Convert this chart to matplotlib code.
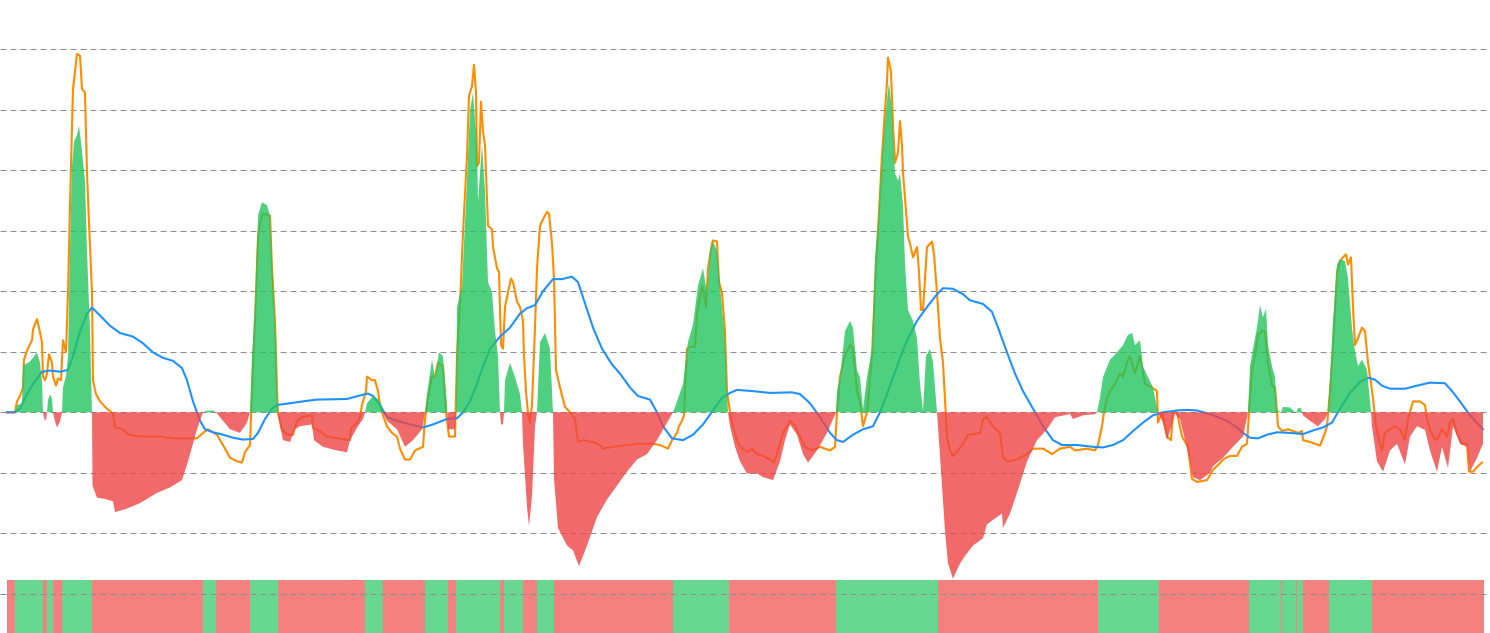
import matplotlib
matplotlib.use("Agg")
import matplotlib.pyplot as plt
import numpy as np

# histogram (green/red area): day index, value
hist_x = [7, 15, 17, 22, 23, 25, 30, 33, 37, 40, 42, 43, 44, 46, 47, 48, 50, 52, 53, 55, 57, 60, 62,
          63, 66, 68, 70, 72, 74, 77, 79, 81, 85, 87, 90, 92, 92.5, 97, 105, 113, 115, 127, 140, 157,
          170, 182, 188, 197, 203, 207, 213, 216, 223, 230, 240, 247, 250, 252, 255, 258, 262, 267,
          270, 273, 276, 278, 280, 283, 290, 295, 300, 312, 314, 323, 337, 347, 350, 358, 363, 365,
          367, 373, 378, 382, 383, 387, 397, 405, 413, 422, 425, 427, 432, 435, 439, 443, 447, 448,
          455, 456, 457, 462, 467, 470, 473, 477, 478, 482, 485, 488, 492, 495, 498, 500, 501, 503,
          504, 505, 510, 515, 520, 522, 523, 527, 529, 532, 535, 537, 540, 545, 550, 553, 554, 558,
          567, 573, 579, 587, 597, 607, 617, 627, 637, 647, 657, 665, 673, 677, 683, 688, 693, 698,
          703, 707, 710, 713, 717, 720, 725, 728, 730, 735, 740, 747, 757, 763, 773, 780, 785, 790,
          797, 803, 808, 817, 827, 836, 837, 840, 845, 850, 853, 857, 860, 863, 867, 872, 875, 878,
          882, 887, 889, 892, 895, 898, 900, 903, 905, 908, 913, 917, 920, 923, 926, 930, 933, 937,
          938, 942, 945, 948, 953, 957, 960, 965, 973, 983, 987, 997, 1002, 1003, 1010, 1017, 1027,
          1037, 1047, 1055, 1070, 1073, 1083, 1095, 1097, 1100, 1103, 1110, 1117, 1123, 1128, 1132,
          1135, 1140, 1143, 1148, 1153, 1158, 1163, 1167, 1172, 1175, 1180, 1190, 1193, 1200, 1210,
          1213, 1223, 1233, 1243, 1248, 1250, 1253, 1257, 1260, 1263, 1266, 1268, 1272, 1275, 1277,
          1281, 1283, 1290, 1296, 1298, 1301, 1302, 1303, 1310, 1318, 1325, 1328, 1330, 1333, 1337,
          1340, 1345, 1348, 1352, 1354, 1358, 1362, 1367, 1371, 1372, 1377, 1383, 1390, 1397, 1405,
          1410, 1417, 1425, 1430, 1437, 1442, 1448, 1453, 1460, 1467, 1470, 1477, 1483]
hist_v = [-0.01, -0.01, 0.12, 0.14, 0.76, 0.79, 0.84, 0.9, 0.99, 0.82, 0.5, 0, -0.1, -0.14, 0, 0.2, 0.3,
          0.22, 0, -0.15, -0.25, -0.15, 0, 0.41, 0.6, 0.93, 2.67, 4.06, 4.47, 4.58, 4.73, 4.47, 3.83,
          2.67, 1.34, 0, -1.21, -1.41, -1.43, -1.47, -1.65, -1.59, -1.5, -1.33, -1.24, -1.12, -0.81,
          -0.28, 0, 0.03, 0.03, 0, -0.14, -0.28, -0.34, -0.17, 0, 0.93, 1.8, 3.25, 3.47, 3.42, 3.25,
          2.21, 1.22, 0, -0.23, -0.46, -0.49, -0.28, -0.23, -0.2, -0.46, -0.57, -0.63, -0.66, -0.46,
          -0.23, -0.11, 0, 0.15, 0.27, 0.22, 0.1, 0, -0.14, -0.28, -0.57, -0.46, -0.28, 0, 0.3, 0.87,
          0.58, 0.99, 0.93, 0.12, -0.28, -0.28, 0, 1.74, 2.09, 3.83, 4.99, 5.28, 4.41, 3.48, 4.41,
          3.66, 2.15, 1.98, 1.34, 0.93, 0, -0.2, -0.2, 0, 0.53, 0.82, 0.58, 0.3, 0, -0.52, -1.56,
          -1.88, -1.38, -0.23, 0, 1.16, 1.31, 1.05, 0, -1.1, -1.91, -2.2, -2.28, -2.54, -2.2, -1.73,
          -1.44, -1.21, -0.98, -0.78, -0.69, -0.46, -0.23, 0, 0.18, 0.47, 1.16, 1.45, 2.09, 2.38,
          1.98, 2.67, 2.82, 2.67, 2.09, 1.22, 0, -0.23, -0.57, -0.81, -1.01, -1.01, -1.07, -1.12,
          -0.81, -0.46, -0.2, -0.37, -0.69, -0.83, -0.63, -0.34, 0, 0.35, 0.58, 1.34, 1.51, 1.39, 0.7,
          0.58, 0.05, 0.58, 1.05, 2.56, 3.11, 4.24, 5.16, 5.45, 4.99, 3.95, 3.83, 3.95, 3.42, 2.44,
          1.69, 1.51, 1.22, 0.47, 0.02, 0.93, 1.05, 0.82, 0, -0.23, -1.21, -1.96, -2.49, -2.75, -2.6,
          -2.5, -2.37, -2.2, -2.08, -1.85, -1.73, -1.67, -1.91, -1.67, -1.33, -0.81, -0.46, -0.28,
          -0.08, -0.03, -0.11, -0.05, -0.03, 0, 0.24, 0.58, 0.87, 0.99, 1.11, 1.28, 1.31, 1.11, 1.19,
          0.76, 0.58, 0.41, 0, -0.17, -0.46, -0.2, -0.02, -0.11, -0.81, -1.07, -1.12, -1.0, -0.89,
          -0.75, -0.57, -0.4, 0, 0.76, 1.05, 1.4, 1.77, 1.57, 1.71, 1.11, 0.76, 0.58, 0.05, -0.01,
          0.09, 0.08, -0.01, 0.07, 0.07, 0, -0.05, -0.14, -0.23, -0.11, 0, 0.58, 1.51, 2.44, 2.53,
          2.5, 2.21, 1.4, 1.11, 0.76, 0.87, 0.7, 0, -0.23, -0.81, -0.98, -0.63, -0.52, -0.86, -0.4,
          -0.23, -0.29, -0.63, -0.98, -0.57, -0.92, -0.23, -0.52, -0.57, -0.98, -0.75, -0.52]

# fast line (orange)
fast_x = [7, 15, 17, 20, 23, 24, 27, 32, 33, 37, 39, 42, 43, 45, 47, 49, 52, 53, 56, 58, 61, 63, 66, 68,
          70, 73, 75, 77, 80, 82, 85, 87, 89, 92, 93, 96, 100, 107, 113, 115, 123, 128, 140, 160, 173,
          197, 203, 208, 217, 225, 230, 237, 242, 245, 250, 252, 255, 258, 261, 263, 270, 272, 275,
          277, 278, 282, 287, 293, 297, 302, 312, 313, 320, 327, 337, 350, 351, 357, 360, 362, 366,
          367, 372, 375, 378, 380, 383, 387, 392, 397, 400, 405, 410, 415, 423, 425, 428, 432, 435,
          438, 443, 446, 449, 455, 457, 460, 463, 467, 469, 472, 474, 476, 477, 479, 481, 483, 485,
          487, 488, 492, 493, 497, 499, 501, 503, 505, 508, 511, 513, 517, 520, 523, 524, 526, 528,
          530, 532, 535, 537, 540, 543, 547, 549, 552, 554, 556, 560, 565, 570, 575, 578, 583, 593,
          600, 603, 613, 627, 640, 653, 660, 668, 672, 677, 679, 682, 684, 685, 687, 690, 695, 697,
          702, 703, 706, 708, 712, 713, 717, 719, 722, 725, 727, 730, 733, 737, 740, 743, 747, 752,
          757, 763, 770, 774, 778, 783, 787, 790, 795, 800, 805, 812, 820, 830, 835, 837, 840, 845,
          850, 853, 857, 860, 863, 867, 872, 875, 878, 882, 885, 887, 888, 891, 893, 895, 898, 900,
          902, 903, 905, 908, 910, 913, 917, 919, 921, 923, 925, 927, 932, 934, 937, 940, 943, 947,
          950, 953, 958, 963, 968, 970, 980, 983, 987, 993, 1000, 1003, 1008, 1017, 1027, 1033, 1043,
          1052, 1060, 1070, 1075, 1087, 1095, 1098, 1102, 1104, 1107, 1110, 1115, 1120, 1123, 1127,
          1130, 1135, 1140, 1145, 1152, 1157, 1158, 1162, 1167, 1171, 1173, 1177, 1182, 1188, 1192,
          1197, 1207, 1213, 1220, 1223, 1230, 1237, 1242, 1247, 1249, 1252, 1255, 1258, 1262, 1265,
          1268, 1272, 1275, 1277, 1278, 1282, 1288, 1293, 1298, 1302, 1303, 1310, 1315, 1320, 1325,
          1327, 1330, 1333, 1337, 1340, 1343, 1346, 1348, 1351, 1353, 1355, 1358, 1362, 1365, 1368,
          1370, 1373, 1376, 1379, 1382, 1385, 1390, 1395, 1400, 1405, 1408, 1413, 1420, 1425, 1427,
          1430, 1433, 1437, 1442, 1447, 1450, 1453, 1457, 1462, 1467, 1469, 1473, 1478, 1482]
fast_v = [0, 0, 0.18, 0.27, 0.41, 0.87, 1.02, 1.19, 1.37, 1.54, 1.4, 1.16, 0.59, 0.53, 0.64, 0.96, 0.82,
          0.59, 0.44, 0.56, 0.53, 1.19, 0.99, 1.98, 3.42, 5.34, 5.63, 5.92, 5.89, 5.34, 5.28, 3.95,
          3.13, 1.98, 0.53, 0.3, 0.18, 0.06, -0.02, -0.25, -0.28, -0.37, -0.4, -0.4, -0.43, -0.43,
          -0.34, -0.28, -0.37, -0.6, -0.75, -0.81, -0.83, -0.66, -0.54, 0.35, 1.51, 2.9, 3.19, 3.28,
          3.25, 2.38, 1.51, 0.35, -0.02, -0.28, -0.37, -0.37, -0.14, -0.08, -0.05, -0.26, -0.31, -0.4,
          -0.43, -0.46, -0.26, -0.17, -0.08, 0.12, 0.35, 0.59, 0.53, 0.53, 0.35, 0.12, -0.05, -0.23,
          -0.34, -0.4, -0.6, -0.78, -0.78, -0.63, -0.57, -0.11, 0.24, 0.59, 0.59, 0.82, 0.76, 0, -0.4,
          -0.4, 0.93, 1.8, 2.96, 4.24, 5.22, 5.39, 5.74, 5.28, 4.06, 4.12, 5.13, 4.64, 4.41, 3.54, 3.08,
          3.02, 2.73, 2.38, 2.32, 1.11, 1.05, 1.74, 1.98, 2.21, 2.15, 1.83, 1.74, 1.51, 0.93, 0.35,
          -0.02, -0.17, 0.12, 1.4, 2.38, 3.08, 3.19, 3.31, 3.28, 2.79, 2.21, 0.7, 0.41, 0.09, 0, -0.11,
          -0.49, -0.46, -0.49, -0.54, -0.6, -0.57, -0.54, -0.52, -0.52, -0.54, -0.6, -0.46, -0.34,
          -0.23, -0.14, -0.05, 0.35, 1.05, 1.08, 1.08, 1.63, 2.09, 2.03, 1.74, 2.38, 2.79, 2.84, 2.82,
          2.15, 1.98, 1.34, 0.35, 0, -0.23, -0.46, -0.57, -0.6, -0.66, -0.6, -0.69, -0.72, -0.78,
          -0.83, -0.63, -0.34, -0.23, -0.14, -0.23, -0.4, -0.57, -0.63, -0.57, -0.63, -0.57, 0, 0.59,
          0.93, 1.11, 1.05, 0.35, 0.18, -0.23, 0, 0.93, 2.09, 3.02, 4.24, 4.99, 5.45, 5.86, 5.63, 4.76,
          4.12, 4.29, 4.81, 4.41, 3.95, 3.54, 2.9, 2.79, 2.56, 2.73, 2.32, 1.69, 1.69, 2.21, 2.73, 2.82,
          2.61, 1.98, 1.22, 0.82, -0.4, -0.63, -0.72, -0.63, -0.52, -0.37, -0.37, -0.34, -0.11, -0.08,
          -0.23, -0.34, -0.75, -0.81, -0.78, -0.69, -0.6, -0.6, -0.69, -0.6, -0.57, -0.63, -0.6, -0.63,
          -0.54, -0.23, 0, 0.24, 0.35, 0.47, 0.64, 0.59, 0.82, 0.93, 0.64, 0.93, 0.47, 0.41, 0.35,
          -0.17, 0, -0.4, -0.46, 0, 0, -0.4, -0.57, -1.1, -1.15, -1.12, -0.95, -0.84, -0.78, -0.72,
          -0.72, -0.57, -0.52, 0, 0.7, 0.93, 1.28, 1.34, 1.34, 0.82, 0.44, 0.41, 0, -0.23, -0.31,
          -0.28, -0.31, -0.34, -0.31, -0.46, -0.49, -0.52, -0.55, -0.34, -0.23, 0.35, 1.05, 2.32, 2.5,
          2.56, 2.61, 2.44, 2.56, 1.74, 1.11, 1.22, 1.4, 1.34, 0.82, 0.59, 0.24, -0.23, -0.46, -0.63,
          -0.34, -0.28, -0.23, -0.28, -0.46, -0.11, 0.18, 0.18, 0.12, -0.11, -0.28, -0.4, -0.46,
          -0.28, -0.4, -0.17, -0.11, -0.34, -0.52, -0.52, -0.98, -0.98, -0.89, -0.83]

# slow line (blue)
slow_x = [7, 15, 20, 25, 33, 42, 50, 60, 68, 73, 80, 87, 92, 100, 110, 120, 133, 143, 153, 163, 173, 182,
          187, 193, 200, 205, 213, 223, 233, 243, 253, 258, 265, 272, 277, 290, 307, 317, 347, 358,
          368, 373, 380, 387, 397, 410, 423, 433, 447, 457, 463, 470, 477, 483, 490, 500, 510, 520,
          527, 535, 543, 553, 562, 572, 578, 585, 593, 602, 612, 620, 630, 638, 650, 657, 663, 672,
          683, 693, 703, 713, 722, 730, 737, 753, 770, 792, 800, 810, 820, 830, 837, 843, 853, 863,
          873, 880, 887, 897, 907, 917, 927, 937, 943, 953, 963, 970, 983, 992, 998, 1007, 1015, 1023,
          1033, 1043, 1053, 1062, 1077, 1093, 1103, 1113, 1123, 1133, 1143, 1153, 1163, 1177, 1187,
          1197, 1210, 1227, 1237, 1243, 1250, 1258, 1267, 1277, 1290, 1303, 1313, 1323, 1332, 1340,
          1350, 1360, 1368, 1375, 1382, 1390, 1405, 1417, 1430, 1445, 1452, 1460, 1470, 1483]
slow_v = [0, 0, 0.06, 0.24, 0.47, 0.67, 0.69, 0.67, 0.7, 0.93, 1.34, 1.63, 1.73, 1.6, 1.43, 1.31, 1.25,
          1.14, 0.99, 0.9, 0.85, 0.73, 0.53, 0.18, -0.14, -0.28, -0.33, -0.37, -0.42, -0.45, -0.44,
          -0.34, -0.11, 0.06, 0.12, 0.15, 0.19, 0.21, 0.22, 0.27, 0.31, 0.27, 0.12, -0.08, -0.14,
          -0.2, -0.25, -0.2, -0.11, -0.1, 0, 0.18, 0.47, 0.76, 1.05, 1.25, 1.4, 1.63, 1.72, 1.77, 2.0,
          2.2, 2.2, 2.24, 2.15, 1.8, 1.4, 1.05, 0.79, 0.64, 0.41, 0.27, 0.21, 0, -0.23, -0.43, -0.46,
          -0.37, -0.2, 0.03, 0.24, 0.32, 0.37, 0.35, 0.32, 0.33, 0.3, 0.15, -0.08, -0.34, -0.46,
          -0.49, -0.37, -0.28, -0.23, 0, 0.3, 0.76, 1.19, 1.51, 1.74, 1.95, 2.05, 2.04, 1.95, 1.85,
          1.79, 1.66, 1.4, 0.99, 0.64, 0.35, 0.06, -0.23, -0.46, -0.54, -0.54, -0.57, -0.58, -0.54,
          -0.46, -0.31, -0.17, -0.05, 0, 0.03, 0.04, 0.03, -0.03, -0.14, -0.25, -0.34, -0.42, -0.43,
          -0.37, -0.33, -0.34, -0.36, -0.3, -0.25, -0.17, 0.06, 0.32, 0.5, 0.57, 0.54, 0.44, 0.39,
          0.39, 0.44, 0.49, 0.48, 0.35, 0.18, -0.05, -0.28]

grid_levels = list(range(-3, 7))

GREEN = "#22c55e"
RED = "#ef4444"

hx = np.array(hist_x, dtype=float)
hv = np.array(hist_v, dtype=float)

fig = plt.figure(figsize=(14.9, 6.33), dpi=100)
ax = fig.add_axes([0, 0, 1, 1])

for g in grid_levels:
    ax.axhline(g, color="#8c8c8c", lw=0.72, ls=(0, (6, 4)), zorder=2)

ax.plot(fast_x, fast_v, color="#ff8c00", lw=1.5, zorder=3)
ax.plot(slow_x, slow_v, color="#1e90ff", lw=1.5, zorder=3)

ax.fill_between(hx, 0, hv, where=hv >= 0, interpolate=True, color=GREEN, alpha=0.8, lw=0, zorder=4)
ax.fill_between(hx, 0, hv, where=hv <= 0, interpolate=True, color=RED, alpha=0.8, lw=0, zorder=4)

# signal strip at the bottom, coloured by sign of the histogram
step = 0.25
fine = np.arange(hx[0], hx[-1] + step, step)
pos = np.interp(fine, hx, hv) >= 0
strip_rgb = np.where(pos[:, None], [0.41, 0.847, 0.573], [0.957, 0.502, 0.502])[None, :, :]
strip_lo, strip_hi = -3.645, -2.785
ax.imshow(strip_rgb, extent=(fine[0] - step / 2, fine[-1] + step / 2, strip_lo, strip_hi),
          aspect="auto", interpolation="nearest", zorder=1)

ax.set_xlim(0, 1490)
ax.set_ylim(-3.645, 6.81)
ax.axis("off")

fig.savefig("out.png", dpi=100)
